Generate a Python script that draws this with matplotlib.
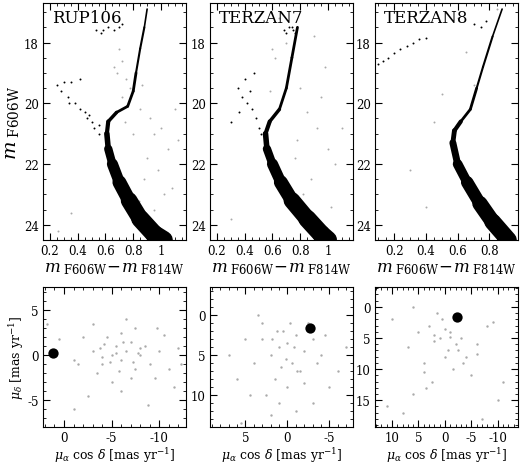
import matplotlib
matplotlib.use("Agg")
import matplotlib.pyplot as plt
from matplotlib.ticker import AutoMinorLocator, MultipleLocator

plt.rcParams['font.family'] = ['DejaVu Serif']
plt.rcParams['mathtext.fontset'] = 'dejavuserif'

names = ["RUP106", "TERZAN7", "TERZAN8"]

# fiducial sequences (colour, magnitude) and local width in points
fid_col = [
    [0.90, 0.88, 0.85, 0.82, 0.80, 0.76, 0.68, 0.62, 0.61, 0.62, 0.65, 0.70, 0.77, 0.85, 0.95, 1.02],
    [0.78, 0.74, 0.70, 0.65, 0.58, 0.55, 0.56, 0.60, 0.66, 0.74, 0.85, 0.95, 1.00],
    [0.88, 0.82, 0.76, 0.72, 0.68, 0.62, 0.58, 0.57, 0.60, 0.66, 0.74, 0.82, 0.92],
]
fid_mag = [
    [16.9, 17.5, 18.2, 19.0, 19.6, 20.1, 20.3, 20.6, 21.0, 21.5, 22.0, 22.6, 23.2, 23.8, 24.3, 24.5],
    [17.5, 18.5, 19.5, 20.2, 20.6, 21.0, 21.5, 22.0, 22.6, 23.2, 23.8, 24.3, 24.5],
    [16.9, 17.8, 18.8, 19.5, 20.2, 20.6, 20.9, 21.3, 22.0, 22.6, 23.3, 23.9, 24.5],
]
fid_w = [
    [1.2, 1.5, 1.5, 2, 2, 2, 2.5, 3, 4, 6, 8, 10, 12, 13, 13],
    [2, 2, 2, 2.5, 3, 4, 6, 8, 10, 12, 13, 13],
    [1.2, 1.5, 1.5, 2, 2, 3, 3.5, 5, 7, 9, 11, 12],
]
# horizontal branch / sparse member stars
hb_col = [
    [0.25, 0.28, 0.33, 0.35, 0.38, 0.42, 0.45, 0.48, 0.50, 0.52, 0.55, 0.30, 0.34, 0.42, 0.47, 0.55, 0.58, 0.62, 0.66, 0.70, 0.72, 0.57, 0.53],
    [0.38, 0.42, 0.45, 0.40, 0.35, 0.48, 0.50, 0.47, 0.44, 0.52, 0.68, 0.72, 0.75, 0.76, 0.70, 0.74, 0.30, 0.36],
    [0.10, 0.13, 0.16, 0.20, 0.24, 0.28, 0.32, 0.36, 0.40, 0.70, 0.75, 0.78],
]
hb_mag = [
    [19.4, 19.6, 19.8, 19.3, 20.0, 20.2, 20.3, 20.4, 20.6, 20.8, 21.0, 19.3, 20.0, 19.2, 20.5, 20.7, 17.6, 17.5, 17.6, 17.5, 17.4, 17.7, 17.6],
    [19.8, 20.0, 20.2, 19.2, 19.5, 20.5, 20.8, 19.0, 19.6, 21.0, 17.6, 17.5, 17.6, 17.7, 17.7, 17.5, 20.6, 20.3],
    [18.7, 18.6, 18.5, 18.35, 18.2, 18.1, 18.0, 17.9, 17.85, 17.4, 17.5, 17.3],
]
# field stars (grey)
fs_col = [
    [0.70, 0.72, 0.68, 0.75, 0.78, 0.66, 0.72, 0.85, 0.92, 0.95, 1.00, 1.05, 1.10, 0.90, 0.88, 0.98, 1.12, 0.86, 0.80, 1.02, 0.95, 0.84, 1.08, 0.74, 0.26, 0.35],
    [0.62, 0.65, 0.70, 0.80, 0.85, 0.92, 1.00, 1.05, 0.88, 0.95, 1.10, 0.78, 0.82, 1.02, 0.90, 0.98, 0.76, 0.58, 0.60, 0.30],
    [0.60, 0.65, 0.70, 0.50, 0.45, 0.40, 0.85, 0.30],
]
fs_mag = [
    [18.2, 18.6, 19.0, 19.2, 19.5, 18.8, 19.8, 20.2, 20.5, 21.0, 20.8, 21.5, 20.2, 21.8, 22.5, 22.2, 21.2, 19.4, 21.0, 23.0, 23.5, 23.2, 22.8, 20.6, 24.2, 23.6],
    [18.5, 17.2, 18.0, 19.5, 20.3, 20.8, 21.5, 22.0, 22.5, 19.8, 20.8, 21.2, 23.0, 23.4, 17.8, 18.8, 21.8, 19.6, 18.2, 23.8],
    [17.2, 18.3, 19.4, 19.7, 20.6, 23.4, 16.9, 22.2],
]
xlims = [(0.15, 1.18), (0.15, 1.18), (0.08, 0.98)]
xmaj = [0.2, 0.2, 0.2]

# proper motions
pm_xlim = [(2.2, -12.8), (9.2, -7.8), (13.2, -13.8)]
pm_ylim = [(-8, 7.6), (14, -3.5), (19.3, -3.2)]
pm_ymaj = [5, 5, 5]
pm_xmaj = [5, 5, 5]
clu_x = [1.2, -2.7, -2.3]
clu_y = [0.3, 1.6, 1.6]
fpm_x = [
    [-1, -3, -4, -5, -5.5, -6, -6.5, -7, -7.5, -8, -4.5, -3.5, -6, -7, -8.5, -9, -5, -2, -10, -11, -9.5, -3, -6, -7.5, -4, -5.5, -8, -10.5, -1.5, 0.5, -12, -11.5, -2.5, -6.5, -8.8, -4.2, -7.2, -5.8, -3.8, -9.8, 1.8, -12.3, -6.2, -4.8, -7.8, -1],
    [3, 1, 0, -1, -2, 2, -0.5, -1.5, 1.5, 0.5, -3, -4, 4, 5, 6, -5, -6, 2.5, -2.5, 0, 1, -1, 3.5, -3.5, 0.2, -0.8, 1.8, -2, 7, -7, 4.5, -4.5, 2, -1.2, 0.8, 3, -3, 5.5, 1.2, -0.3],
    [0, -1, 1, 2, -2, 3, -3, 0.5, -0.5, 4, -4, 5, -5, 6, -6, 8, -8, 10, -10, 1.5, -1.5, 2.5, -2.5, 7, -7, 3.5, -3.5, 0, 2, -1, 11, -11, 6, -9, 4, -6],
]
fpm_y = [
    [-0.5, 0.5, -1, 0, 1, -0.5, 0.5, 1.5, -1.5, 0, 2, -2, 2.5, -2.5, 1, -1, -3, 2, 0.5, -1.5, -2.5, 3.5, -4, 3, -0.2, 0.2, 0.8, 2.2, -1, 1.8, 0.8, -3.5, -4.5, 4, -5.5, 1.2, -0.8, -1.8, 0.8, 3, 3.5, -1, 1.5, -0.8, 0.3, -6],
    [3, 4, 3.5, 2.5, 4.5, 5, 6, 7, 8, 2, 3, 5, 6, 3, 8, 9, 7, 10, 1, 9, 11, 12, 0, 6, 5.5, 4, 3, 8.5, 5, 4, 10, 2.5, 12.5, 7, 6.5, 1, 11, 13.5, 2, 1],
    [3.5, 4, 5, 4.5, 6, 3, 5, 2, 7, 9, 8, 4, 11, 14, 6, 17, 3, 2, 15, 1, 10, 12, 7, 6.5, 18, 13, 9, 8, 5.5, 4.8, 16, 12, 0, 2.5, 10.5, 7.5],
]

fig = plt.figure(figsize=(5.2, 4.64), dpi=100)
lefts = [43/520, 210/520, 375/520]
w = 143/520
top_b, top_h = 1 - 241/464, 237/464
bot_b, bot_h = 1 - 428/464, 140/464

def style(ax):
    ax.tick_params(direction='in', which='both', top=True, right=True, labelsize=8.5, pad=3)
    ax.tick_params(which='major', length=5)
    ax.tick_params(which='minor', length=2.5)

for i in range(3):
    ax = fig.add_axes([lefts[i], top_b, w, top_h])
    ax.scatter(fs_col[i], fs_mag[i], s=2, c='#aaaaaa', lw=0)
    c, m = fid_col[i], fid_mag[i]
    for k in range(len(c) - 1):
        ax.plot(c[k:k+2], m[k:k+2], color='black', lw=fid_w[i][k], solid_capstyle='round')
    ax.scatter(hb_col[i], hb_mag[i], s=2, c='black', lw=0)
    ax.set_xlim(*xlims[i]); ax.set_ylim(24.5, 16.7)
    ax.xaxis.set_major_locator(MultipleLocator(xmaj[i]))
    ax.yaxis.set_major_locator(MultipleLocator(2))
    ax.xaxis.set_major_formatter(plt.FuncFormatter(lambda v, p: ('%g' % round(v, 2))))
    style(ax)
    ax.xaxis.set_minor_locator(AutoMinorLocator(4))
    ax.yaxis.set_minor_locator(AutoMinorLocator(4))
    ax.text(0.06, 0.975, names[i], transform=ax.transAxes, ha='left', va='top', fontsize=12)
    ax.set_xlabel(r'$m_{\rm\ F606W}\!-\!m_{\rm\ F814W}$', fontsize=12, labelpad=1)
    if i == 0:
        ax.set_ylabel(r'$m_{\rm\ F606W}$', fontsize=14, labelpad=2)

for i in range(3):
    ax = fig.add_axes([lefts[i], bot_b, w, bot_h])
    ax.scatter(fpm_x[i], fpm_y[i], s=3, c='#aaaaaa', lw=0)
    ax.scatter([clu_x[i]], [clu_y[i]], s=55, c='black', lw=0)
    ax.set_xlim(*pm_xlim[i]); ax.set_ylim(*pm_ylim[i])
    ax.xaxis.set_major_locator(MultipleLocator(pm_xmaj[i]))
    ax.yaxis.set_major_locator(MultipleLocator(pm_ymaj[i]))
    ax.xaxis.set_major_formatter(plt.FuncFormatter(lambda v, p: '%d' % round(v)))
    ax.yaxis.set_major_formatter(plt.FuncFormatter(lambda v, p: '%d' % round(v)))
    style(ax)
    ax.xaxis.set_minor_locator(AutoMinorLocator(5))
    ax.yaxis.set_minor_locator(AutoMinorLocator(5))
    ax.set_xlabel(r'$\mu_\alpha$ cos $\delta$ [mas yr$^{-1}$]', fontsize=9, labelpad=1)
    if i == 0:
        ax.set_ylabel(r'$\mu_\delta$ [mas yr$^{-1}$]', fontsize=9, labelpad=1)

fig.savefig('out.png', dpi=100)
